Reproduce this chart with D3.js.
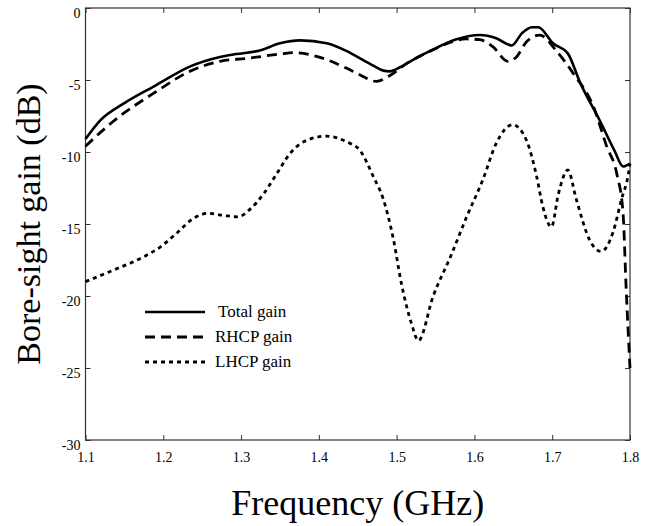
<!DOCTYPE html>
<html>
<head>
    <meta charset="utf-8">
    <title>Bore-sight gain</title>
    <script src="https://d3js.org/d3.v7.min.js"></script>
    <style>
        body { margin: 0; background: #fff; }
        text { font-family: "Liberation Serif", "Times New Roman", serif; fill: #000; }
    </style>
</head>
<body>
    <div id="chart"></div>

    <script>
        // Total gain (dB) vs frequency (GHz)
        const totalFreq = [1.1, 1.119, 1.15, 1.191, 1.234, 1.273, 1.294, 1.324, 1.35, 1.376, 1.41, 1.436, 1.453, 1.47, 1.483, 1.491, 1.505, 1.521, 1.547, 1.577, 1.607, 1.628, 1.648, 1.661, 1.674, 1.682, 1.701, 1.72, 1.736, 1.761, 1.78, 1.791, 1.8];
        const totalGain = [-9.1, -7.8, -6.6, -5.35, -4.07, -3.4, -3.2, -2.95, -2.45, -2.25, -2.45, -3.0, -3.5, -4.0, -4.35, -4.4, -4.1, -3.6, -2.87, -2.17, -1.88, -2.1, -2.6, -1.76, -1.34, -1.34, -2.45, -3.15, -5.2, -7.8, -9.9, -11.0, -10.8];

        // RHCP gain
        const rhcpFreq = [1.1, 1.135, 1.191, 1.234, 1.273, 1.307, 1.35, 1.367, 1.393, 1.436, 1.453, 1.474, 1.491, 1.513, 1.547, 1.589, 1.607, 1.624, 1.643, 1.654, 1.667, 1.684, 1.706, 1.727, 1.753, 1.77, 1.783, 1.791, 1.795, 1.8];
        const rhcpGain = [-9.6, -7.9, -5.8, -4.4, -3.7, -3.5, -3.2, -3.1, -3.3, -4.19, -4.65, -5.1, -4.7, -3.85, -2.9, -2.15, -2.2, -2.7, -3.7, -3.4, -2.34, -1.88, -3.03, -4.54, -6.85, -9.6, -11.5, -14.2, -19.4, -25];

        // LHCP gain
        const lhcpFreq = [1.1, 1.136, 1.174, 1.196, 1.217, 1.239, 1.258, 1.277, 1.296, 1.311, 1.329, 1.346, 1.363, 1.384, 1.41, 1.436, 1.453, 1.47, 1.483, 1.496, 1.506, 1.519, 1.528, 1.547, 1.569, 1.59, 1.611, 1.628, 1.649, 1.667, 1.68, 1.688, 1.699, 1.708, 1.72, 1.731, 1.748, 1.763, 1.778, 1.789, 1.798, 1.8];
        const lhcpGain = [-19.0, -18.2, -17.3, -16.6, -15.65, -14.6, -14.26, -14.4, -14.5, -14.0, -12.9, -11.5, -10.1, -9.2, -8.9, -9.3, -9.9, -11.7, -13.3, -16.1, -19.1, -21.9, -23.1, -20.0, -17.3, -14.5, -11.9, -9.4, -8.1, -9.2, -11.7, -13.8, -15.2, -12.9, -11.25, -13.3, -16.1, -16.9, -15.6, -13.3, -11.5, -10.8];

        const xTicks = [1.1, 1.2, 1.3, 1.4, 1.5, 1.6, 1.7, 1.8];
        const yTicks = [0, -5, -10, -15, -20, -25, -30];
        const seriesNames = ["Total gain", "RHCP gain", "LHCP gain"];

        const margin = { top: 8, right: 15, bottom: 86, left: 85.5 },
            width = 645 - margin.left - margin.right,
            height = 526 - margin.top - margin.bottom;

        const svg = d3.select("#chart")
            .append("svg")
            .attr("width", 645)
            .attr("height", 526);

        const g = svg.append("g")
            .attr("transform", `translate(${margin.left},${margin.top})`);

        const x = d3.scaleLinear().domain([1.1, 1.8]).range([0, width]);
        const y = d3.scaleLinear().domain([-30, 0]).range([height, 0]);

        // axes with inward ticks (bottom/left labelled, top/right ticks only)
        const styleAxis = sel => {
            sel.select(".domain").remove();
            sel.selectAll(".tick line").attr("stroke", "#333");
            sel.selectAll(".tick text").style("font-size", "14px");
        };

        g.append("g")
            .attr("transform", `translate(0,${height})`)
            .call(d3.axisBottom(x).tickValues(xTicks).tickFormat(d => d.toFixed(1)).tickSizeInner(-5).tickSizeOuter(0).tickPadding(12))
            .call(styleAxis);

        g.append("g")
            .call(d3.axisTop(x).tickValues(xTicks).tickFormat("").tickSizeInner(-5).tickSizeOuter(0))
            .call(styleAxis);

        g.append("g")
            .call(d3.axisLeft(y).tickValues(yTicks).tickFormat(d => String(d)).tickSizeInner(-5).tickSizeOuter(0).tickPadding(5))
            .call(styleAxis)
            .selectAll(".tick text").attr("dy", "0.65em");

        g.append("g")
            .attr("transform", `translate(${width},0)`)
            .call(d3.axisRight(y).tickValues(yTicks).tickFormat("").tickSizeInner(-5).tickSizeOuter(0))
            .call(styleAxis);

        // box
        g.append("rect")
            .attr("width", width)
            .attr("height", height)
            .attr("fill", "none")
            .attr("stroke", "#333")
            .attr("stroke-width", 1.2);

        const line = d3.line()
            .x(d => x(d[0]))
            .y(d => y(d[1]))
            .curve(d3.curveMonotoneX);

        const series = [
            { f: totalFreq, v: totalGain, dash: null, w: 2.6 },
            { f: rhcpFreq, v: rhcpGain, dash: "10,6", w: 2.8 },
            { f: lhcpFreq, v: lhcpGain, dash: "4,4", w: 2.8 }
        ];

        series.forEach(s => {
            g.append("path")
                .datum(d3.zip(s.f, s.v))
                .attr("fill", "none")
                .attr("stroke", "#000")
                .attr("stroke-width", s.w)
                .attr("stroke-dasharray", s.dash)
                .attr("d", line);
        });

        // legend
        const legend = svg.append("g").attr("transform", "translate(145,312)");
        series.forEach((s, i) => {
            legend.append("line")
                .attr("x1", 0).attr("x2", 60)
                .attr("y1", i * 25).attr("y2", i * 25)
                .attr("stroke", "#000")
                .attr("stroke-width", s.w)
                .attr("stroke-dasharray", s.dash);
            legend.append("text")
                .attr("x", i === 0 ? 73 : 70)
                .attr("y", i * 25)
                .attr("dy", "0.3em")
                .style("font-size", "17px")
                .text(seriesNames[i]);
        });

        // axis titles
        svg.append("text")
            .attr("x", margin.left + width / 2)
            .attr("y", 515)
            .attr("text-anchor", "middle")
            .style("font-size", "36px")
            .text("Frequency (GHz)");

        svg.append("text")
            .attr("transform", `translate(40,${margin.top + height / 2}) rotate(-90)`)
            .attr("text-anchor", "middle")
            .style("font-size", "34px")
            .text("Bore-sight gain (dB)");
    </script>
</body>
</html>
